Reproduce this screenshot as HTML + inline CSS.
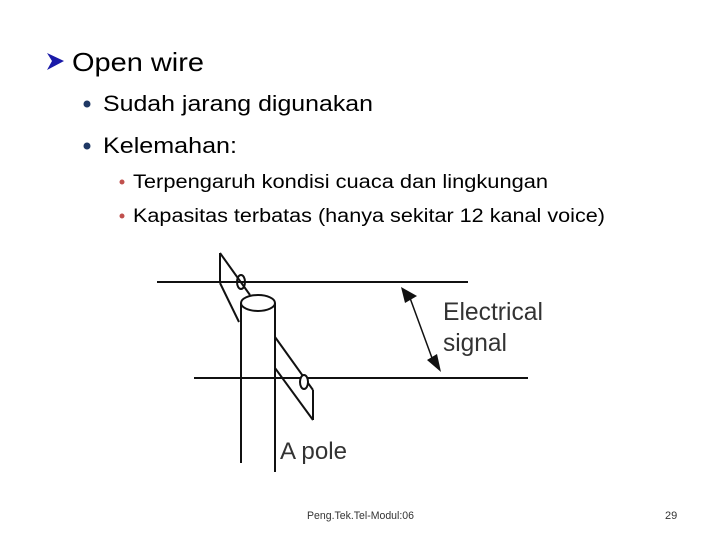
<!DOCTYPE html>
<html><head><meta charset="utf-8"><style>html,body{margin:0;padding:0;background:#fff}svg{display:block}</style></head>
<body>
<svg width="720" height="540" viewBox="0 0 720 540" xmlns="http://www.w3.org/2000/svg" font-family="Liberation Sans, sans-serif">
<rect width="720" height="540" fill="#fff"/>
<!-- title arrow -->
<polygon points="47,53 64,61 47,70 52,61" fill="#1a1aa8"/>
<text x="72" y="71" font-size="26" fill="#000" textLength="132" lengthAdjust="spacingAndGlyphs">Open wire</text>
<circle cx="87" cy="104" r="3.5" fill="#1f3864"/>
<text x="103" y="111" font-size="22" textLength="270" lengthAdjust="spacingAndGlyphs">Sudah jarang digunakan</text>
<circle cx="87" cy="146" r="3.5" fill="#1f3864"/>
<text x="103" y="153" font-size="22" textLength="134" lengthAdjust="spacingAndGlyphs">Kelemahan:</text>
<circle cx="122" cy="182" r="2.5" fill="#c0504d"/>
<text x="133" y="188" font-size="19" textLength="415" lengthAdjust="spacingAndGlyphs">Terpengaruh kondisi cuaca dan lingkungan</text>
<circle cx="122" cy="216" r="2.5" fill="#c0504d"/>
<text x="133" y="222" font-size="19" textLength="472" lengthAdjust="spacingAndGlyphs">Kapasitas terbatas (hanya sekitar 12 kanal voice)</text>
<!-- diagram -->
<g stroke="#111" stroke-width="2" fill="none">
<line x1="157" y1="282" x2="468" y2="282"/>
<line x1="194" y1="378" x2="528" y2="378"/>
<line x1="220" y1="253" x2="220" y2="283"/>
<line x1="220" y1="253" x2="250" y2="295"/>
<line x1="220" y1="283" x2="239" y2="322"/>
<ellipse cx="241" cy="282" rx="4" ry="7"/>
<line x1="241" y1="303" x2="241" y2="463"/>
<line x1="275" y1="303" x2="275" y2="472"/>
<ellipse cx="258" cy="303" rx="17" ry="8" fill="#fff"/>
<line x1="275" y1="337" x2="313" y2="390"/>
<line x1="275" y1="368" x2="313" y2="420"/>
<line x1="313" y1="390" x2="313" y2="420"/>
<ellipse cx="304" cy="382" rx="4" ry="7" fill="#fff"/>
<line x1="410" y1="298" x2="432" y2="358" stroke-width="1.5"/>
</g>
<polygon points="401,287 417,296 405,303" fill="#111"/>
<polygon points="441,372 437,354 427,360" fill="#111"/>
<text x="443" y="320" font-size="25" fill="#333" textLength="100" lengthAdjust="spacingAndGlyphs">Electrical</text>
<text x="443" y="351" font-size="25" fill="#333" textLength="64" lengthAdjust="spacingAndGlyphs">signal</text>
<text x="280" y="459" font-size="24" fill="#333" textLength="67" lengthAdjust="spacingAndGlyphs">A pole</text>
<text x="307" y="519" font-size="11" fill="#333" textLength="107" lengthAdjust="spacingAndGlyphs">Peng.Tek.Tel-Modul:06</text>
<text x="665" y="519" font-size="11" fill="#333">29</text>
</svg>
</body></html>
